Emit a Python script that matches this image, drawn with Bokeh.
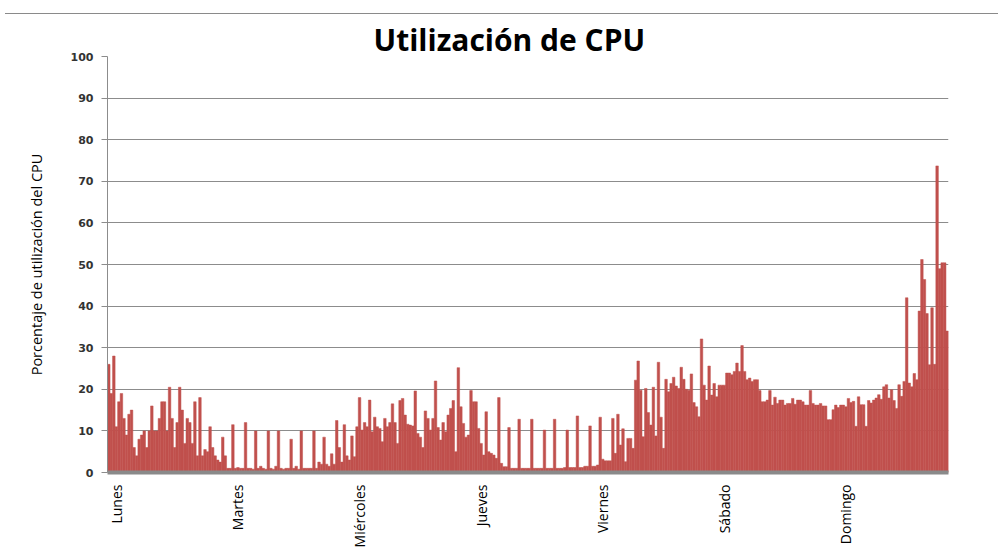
from math import pi
from bokeh.plotting import figure
from bokeh.models import Range1d, FixedTicker, Div, ColumnDataSource
from bokeh.layouts import column
from bokeh.embed import file_html
from bokeh.resources import INLINE

# CPU utilisation (%) per half-hour sample, one list per day
dias = ["Lunes", "Martes", "Miércoles", "Jueves", "Viernes", "Sábado", "Domingo"]

lunes = [26, 19, 28, 11, 17, 19, 13, 9, 14, 15, 6, 4, 8, 9, 10, 6, 10, 16, 10, 10,
         13, 17, 17, 10, 20.5, 13, 6, 12, 20.5, 15, 7, 13, 12, 7, 17, 4, 18, 4, 5.5, 5,
         11, 6, 4, 3, 2.5, 8.5, 4, 1]
martes = [1, 11.5, 1, 1.2, 1, 1, 12, 1, 1, 0.8, 10, 1, 1.5, 1, 0.8, 10, 1, 0.8, 1.5, 10,
          1, 0.8, 1, 1, 8, 1, 1.5, 0.8, 10, 1, 1, 1, 1, 10, 1, 2.5, 2, 8.5, 2, 1.5,
          4.5, 2, 12.5, 6, 2.5, 11.5, 4, 3]
miercoles = [8.8, 3.8, 11, 18, 10.2, 12, 11, 17.4, 9.8, 13.3, 11, 10.6, 7.4, 13, 11, 12,
             16.5, 12, 7, 17.3, 17.8, 13.8, 11.6, 11.4, 11.2, 19.6, 9.4, 8.5, 6, 14.8,
             13, 10.2, 13, 22, 10.8, 7.8, 12, 9.8, 13.8, 15.4, 17.3, 5, 25.2, 15.8, 11.8,
             8.5, 9, 19.7]
jueves = [17, 17, 10.6, 7, 4.2, 14.6, 5, 4.6, 4.2, 3.4, 18, 2.2, 1.4, 1.4, 10.8, 1, 1, 1,
          12.8, 1, 1, 1, 1, 12.8, 1, 1, 1, 1, 10.2, 1, 1, 1, 12.8, 1, 1, 1, 1.2, 10.2,
          1.2, 1.2, 1.2, 13.6, 1.2, 1.2, 1.5, 1.5, 11.2, 1.5]
viernes = [1.5, 1.8, 13.3, 3.2, 2.8, 2.8, 2.8, 13, 4.6, 14, 6.6, 10.5, 2.6, 8.2, 8.2, 5.8,
           22.2, 26.8, 19.8, 8.6, 20.2, 14.4, 11.4, 20.5, 8.8, 26.5, 13.3, 5.8, 22.4, 19.4,
           21.4, 22.9, 20.8, 20.2, 25.3, 22.4, 20, 19.8, 23.7, 16.8, 15.8, 13.4, 32.1, 21,
           17.4, 25.6, 18.6, 21.4]
sabado = [18.2, 21, 21, 21, 23.9, 23.9, 23.5, 24.3, 26.3, 24.3, 30.5, 24.3, 22.3, 22.7,
          21.9, 22.3, 22.3, 19.7, 17, 17, 17.4, 19.7, 16.2, 18.1, 16.6, 17.4, 17.4, 16.2,
          16.6, 16.6, 17.8, 16.4, 17.4, 17.4, 17, 16.2, 16.2, 19.7, 16.6, 16.2, 16.2, 16.6,
          16, 16, 12.7, 12.7, 15.1, 16.2]
domingo = [15.6, 16.2, 16.2, 15.8, 17.8, 16.8, 17.1, 11.1, 18.2, 16.3, 16.3, 11.1, 17.3,
           16.7, 17.4, 17.9, 18.7, 17.6, 20.6, 21.1, 17.9, 19.9, 17.3, 15.4, 21.1, 18.3,
           21.9, 42, 21.5, 20.6, 23.8, 22.3, 38.8, 51.2, 46.4, 38.2, 25.9, 39.6, 26, 73.7,
           49, 50.4, 50.4, 34]

y_ticks = [0, 10, 20, 30, 40, 50, 60, 70, 80, 90, 100]

series = [lunes, martes, miercoles, jueves, viernes, sabado, domingo]
valores = [v for s in series for v in s]
x = list(range(len(valores)))

# label position: a few samples after the start of each day
starts = []
acc = 0
for s in series:
    starts.append(acc + 3)
    acc += len(s)

src = ColumnDataSource(dict(x=x, cpu=valores))

RED = "#C0504D"
GRID = "#8c8c8c"

p = figure(frame_width=841, frame_height=416,
           min_border_left=107, min_border_right=40, min_border_top=0, min_border_bottom=10,
           x_range=Range1d(-0.5, len(valores) - 0.5), y_range=Range1d(0, 100),
           output_backend="svg", toolbar_location=None,
           title="Utilización de CPU")

p.vbar(x="x", top="cpu", bottom=0, width=1.0, source=src,
       fill_color=RED, line_color=RED, line_width=0.5)

p.title.align = "left"
p.title.offset = 266
p.title.text_font = "Open Sans"
p.title.text_font_size = "30px"
p.title.text_font_style = "bold"
p.title.text_color = "#000000"
p.title.standoff = -6

p.outline_line_color = None
p.xgrid.visible = False
p.ygrid.grid_line_color = GRID
p.ygrid.grid_line_width = 1

p.yaxis.ticker = FixedTicker(ticks=y_ticks)
p.yaxis.axis_line_color = GRID
p.yaxis.major_tick_line_color = GRID
p.yaxis.major_tick_out = 6
p.yaxis.major_tick_in = 0
p.yaxis.minor_tick_line_color = None
p.yaxis.major_label_text_font = "DejaVu Sans"
p.yaxis.major_label_text_font_style = "bold"
p.yaxis.major_label_text_font_size = "11px"
p.yaxis.major_label_text_color = "#333333"
p.yaxis.major_label_standoff = 8
p.yaxis.axis_label = "Porcentaje de utilización del CPU"
p.yaxis.axis_label_text_font = "Open Sans"
p.yaxis.axis_label_text_font_size = "14.5px"
p.yaxis.axis_label_text_font_style = "normal"
p.yaxis.axis_label_text_color = "#000000"
p.yaxis.axis_label_standoff = 22

p.xaxis.ticker = FixedTicker(ticks=starts)
p.xaxis.major_label_overrides = {t: d for t, d in zip(starts, dias)}
p.xaxis.major_label_orientation = pi / 2
p.xaxis.major_tick_line_color = None
p.xaxis.minor_tick_line_color = None
p.xaxis.axis_line_color = "#8a8a8a"
p.xaxis.axis_line_width = 4
p.xaxis.major_label_text_font = "Open Sans"
p.xaxis.major_label_text_font_size = "14px"
p.xaxis.major_label_text_color = "#000000"
p.xaxis.major_label_standoff = 6

line = Div(text="", width=993, height=9,
           styles={"border-bottom": "1px solid #8a8a8a", "margin-left": "5px",
                   "box-sizing": "border-box"})

layout = column(line, p, spacing=0)

open("out.html", "w").write(file_html(layout, INLINE))
